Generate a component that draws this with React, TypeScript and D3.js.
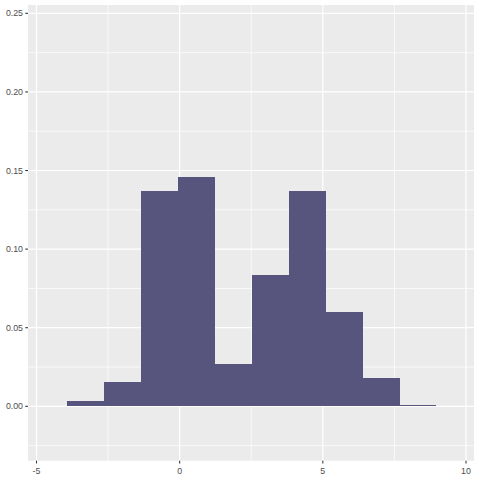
import { useMemo } from 'react'
import * as d3 from 'd3'

const WIDTH = 480
const HEIGHT = 480
// panel box, the ggplot grey area
const PANEL = { left: 28, right: 474, top: 5, bottom: 460.7 }

// histogram bins
const binStarts = [-3.93, -2.64, -1.35, -0.06, 1.23, 2.52, 3.81, 5.1, 6.39, 7.68]
const binEnds = [-2.64, -1.35, -0.06, 1.23, 2.52, 3.81, 5.1, 6.39, 7.68, 8.97]
const binValues = [0.0034, 0.0155, 0.137, 0.146, 0.027, 0.0835, 0.137, 0.06, 0.018, 0.0006]

const xTicks = [-5, 0, 5, 10]
const xMinorTicks = [-2.5, 2.5, 7.5]
const yTicks = [0, 0.05, 0.1, 0.15, 0.2, 0.25]
const yMinorTicks = [-0.025, 0.025, 0.075, 0.125, 0.175, 0.225]

const BAR_COLOR = '#57547e'
const TEXT_COLOR = '#4d4d4d'
const FONT = '"Liberation Sans", Arial, sans-serif'

export default function App() {
  const xScale = useMemo(
    () => d3.scaleLinear().domain([-5.297, 10.28]).range([PANEL.left, PANEL.right]),
    []
  )
  const yScale = useMemo(
    () => d3.scaleLinear().domain([-0.0346, 0.2553]).range([PANEL.bottom, PANEL.top]),
    []
  )

  const bars = binValues.map((v, i) => {
    const x0 = xScale(binStarts[i])
    const x1 = xScale(binEnds[i])
    const y = yScale(v)
    return (
      <rect
        key={i}
        x={x0}
        width={x1 - x0}
        y={y}
        height={yScale(0) - y}
        fill={BAR_COLOR}
        shapeRendering="crispEdges"
      />
    )
  })

  return (
    <svg
      width={WIDTH}
      height={HEIGHT}
      style={{ position: 'absolute', top: 0, left: 0, background: 'white' }}
    >
      <rect
        x={PANEL.left}
        y={PANEL.top}
        width={PANEL.right - PANEL.left}
        height={PANEL.bottom - PANEL.top}
        fill="#ebebeb"
      />
      {/* minor grid */}
      {yMinorTicks.map((t) => (
        <line
          key={'ym' + t}
          x1={PANEL.left}
          x2={PANEL.right}
          y1={yScale(t)}
          y2={yScale(t)}
          stroke="white"
          strokeWidth={0.7}
        />
      ))}
      {xMinorTicks.map((t) => (
        <line
          key={'xm' + t}
          y1={PANEL.top}
          y2={PANEL.bottom}
          x1={xScale(t)}
          x2={xScale(t)}
          stroke="white"
          strokeWidth={0.7}
        />
      ))}
      {/* major grid */}
      {yTicks.map((t) => (
        <line
          key={'y' + t}
          x1={PANEL.left}
          x2={PANEL.right}
          y1={yScale(t)}
          y2={yScale(t)}
          stroke="white"
          strokeWidth={1.2}
        />
      ))}
      {xTicks.map((t) => (
        <line
          key={'x' + t}
          y1={PANEL.top}
          y2={PANEL.bottom}
          x1={xScale(t)}
          x2={xScale(t)}
          stroke="white"
          strokeWidth={1.2}
        />
      ))}
      {bars}
      {/* axes */}
      <g fontFamily={FONT} fontSize={8.8} fill={TEXT_COLOR}>
        {yTicks.map((t) => (
          <g key={'yt' + t}>
            <line
              x1={PANEL.left - 2.75}
              x2={PANEL.left}
              y1={yScale(t)}
              y2={yScale(t)}
              stroke="#333333"
              strokeWidth={1.07}
            />
            <text x={PANEL.left - 5} y={yScale(t)} dy="0.35em" textAnchor="end">
              {d3.format('.2f')(t)}
            </text>
          </g>
        ))}
        {xTicks.map((t) => (
          <g key={'xt' + t}>
            <line
              x1={xScale(t)}
              x2={xScale(t)}
              y1={PANEL.bottom}
              y2={PANEL.bottom + 2.75}
              stroke="#333333"
              strokeWidth={1.07}
            />
            <text x={xScale(t)} y={PANEL.bottom + 13.2} textAnchor="middle">
              {t}
            </text>
          </g>
        ))}
      </g>
    </svg>
  )
}
